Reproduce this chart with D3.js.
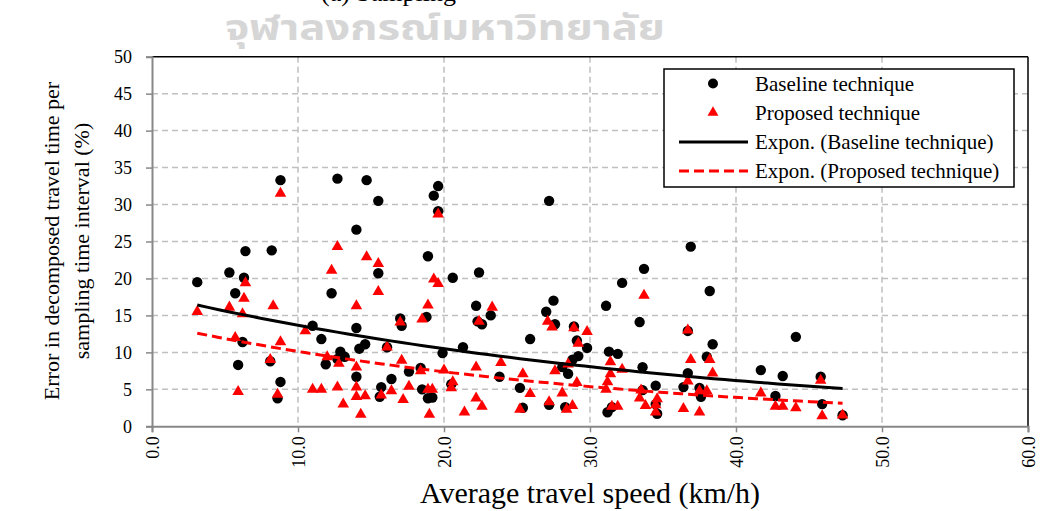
<!DOCTYPE html>
<html><head><meta charset="utf-8">
<script src="https://cdn.jsdelivr.net/npm/d3@7"></script>
<style>
body{margin:0;background:#fff}
svg{display:block}
text{font-family:"Liberation Serif","Times New Roman",serif;fill:#000}
</style>
</head><body>
<svg id="chart" width="1044" height="511"></svg>
<script>
// ---- data ----
const baselinePoints = [
[3.1,19.5],[5.3,20.8],[5.7,18.0],[5.9,8.3],[6.2,11.4],[6.3,20.1],[6.4,23.7],[8.2,23.8],[8.1,8.8],[8.8,6.0],
[8.6,3.8],[8.8,33.3],[11.0,13.6],[11.6,11.8],[12.3,18.0],[11.9,8.4],[12.9,10.1],[12.7,9.1],[13.2,9.4],[12.7,33.5],
[14.0,26.6],[14.0,13.3],[14.2,10.5],[14.6,11.1],[14.0,6.7],[14.7,33.3],[15.5,30.5],[15.5,20.7],[15.7,5.3],[15.6,4.0],
[16.1,10.7],[16.4,6.4],[17.0,14.6],[17.1,13.6],[17.6,7.4],[18.4,7.9],[18.8,14.8],[18.9,23.0],[18.5,5.0],[18.9,3.8],
[19.2,3.9],[19.3,31.2],[19.6,32.5],[19.6,29.1],[19.9,9.9],[20.6,20.1],[20.5,5.7],[21.3,10.7],[22.4,20.8],[22.2,16.3],
[22.3,14.2],[22.6,13.8],[23.2,15.0],[23.8,6.7],[25.2,5.2],[25.4,2.5],[25.9,11.8],[27.2,30.5],[27.5,17.0],[27.0,15.5],
[27.6,13.8],[27.2,2.9],[28.3,2.6],[28.1,8.0],[28.5,7.1],[28.9,13.5],[29.1,11.6],[29.8,10.6],[29.2,9.5],[28.8,9.0],
[31.1,16.3],[32.2,19.4],[33.7,21.3],[33.4,14.1],[31.3,10.1],[31.9,9.8],[33.6,8.0],[31.2,1.9],[31.5,2.6],[33.6,4.9],
[34.5,5.5],[34.5,3.0],[34.6,1.7],[36.9,24.3],[38.2,18.3],[36.7,12.9],[38.4,11.1],[38.0,9.4],[36.7,7.2],[36.4,5.3],
[37.5,5.2],[37.6,4.0],[44.1,12.1],[41.7,7.6],[43.2,6.8],[45.8,6.7],[42.7,4.1],[45.9,3.0],[47.3,1.5]
];
const proposedPoints = [
[3.1,15.5],[5.3,16.1],[5.7,12.0],[5.9,4.7],[6.2,15.2],[6.3,17.3],[6.4,19.4],[8.1,9.0],[8.3,16.3],[8.6,4.3],
[8.8,11.4],[8.8,31.5],[10.5,12.9],[11.0,5.0],[11.6,5.0],[12.0,9.4],[12.3,21.1],[12.7,24.3],[12.7,5.3],[12.8,8.5],
[13.1,3.0],[14.0,16.3],[14.0,8.0],[14.0,5.3],[14.0,4.0],[14.3,1.6],[14.6,4.1],[14.7,22.9],[15.5,22.0],[15.5,18.2],
[15.7,4.2],[16.1,10.7],[16.4,4.8],[17.0,14.1],[17.1,8.9],[17.2,3.6],[17.6,5.4],[18.4,7.5],[18.5,14.5],[18.9,16.4],
[18.9,5.0],[19.2,5.0],[19.0,1.6],[19.3,19.9],[19.6,19.3],[19.6,28.7],[20.0,7.6],[20.6,6.0],[20.5,5.2],[21.4,1.9],
[22.2,8.0],[22.2,3.8],[22.6,2.7],[22.4,14.2],[23.3,16.1],[23.9,8.6],[25.4,7.1],[25.9,4.4],[25.2,2.3],[27.2,3.3],
[27.1,14.2],[27.4,13.4],[27.6,7.5],[28.1,4.5],[28.4,2.3],[28.8,2.8],[28.5,8.4],[28.9,13.3],[29.8,12.8],[29.2,11.2],
[29.1,5.9],[31.4,8.7],[31.4,7.1],[32.2,7.7],[31.2,6.0],[31.1,5.0],[31.5,2.7],[31.9,2.7],[33.7,17.7],[33.5,4.9],
[33.4,3.8],[33.8,2.8],[34.6,3.7],[34.5,2.9],[34.5,1.9],[36.7,13.0],[36.9,9.0],[38.2,9.0],[38.4,7.2],[36.7,6.1],
[37.5,4.8],[38.0,4.8],[36.4,2.4],[37.5,1.9],[41.7,4.5],[42.7,2.7],[43.2,2.7],[44.1,2.5],[45.8,6.2],[45.9,1.4],[47.3,1.5]
];
// exponential trend lines y = a * exp(b x)
const baselineTrend = [17.8, -0.0264];
const proposedTrend = [13.9, -0.0317];
const xTicks = [0,10,20,30,40,50,60];
const yTicks = [0,5,10,15,20,25,30,35,40,45,50];
const legendLabels = ["Baseline technique","Proposed technique","Expon. (Baseline technique)","Expon. (Proposed technique)"];

// ---- drawing ----
const svg = d3.select("#chart");
const L=152, R=1028, T=56.7, B=426.3;
const x = d3.scaleLinear().domain([0,60]).range([L,R]);
const y = d3.scaleLinear().domain([0,50]).range([B,T]);

// top caption (clipped at the page edge, as in the reference) and watermark
svg.append("text").attr("x",321).attr("y",1).attr("font-size",26).text("(a) Sampling");
svg.append("text").attr("x",225).attr("y",40)
  .attr("font-size",36).attr("font-weight","bold")
  .attr("textLength",440).attr("lengthAdjust","spacingAndGlyphs")
  .style("font-family","'Noto Sans Thai','Noto Sans','DejaVu Sans',sans-serif")
  .style("fill","#d6d6d6").text("จุฬาลงกรณ์มหาวิทยาลัย");

// gridlines
const grid = svg.append("g").attr("stroke","#bfbfbf").attr("stroke-width",1.5).attr("stroke-dasharray","6,4");
xTicks.filter(d=>d>0&&d<60).forEach(d=>grid.append("line").attr("x1",x(d)).attr("x2",x(d)).attr("y1",T).attr("y2",B));
yTicks.filter(d=>d>0&&d<50).forEach(d=>grid.append("line").attr("x1",L).attr("x2",R).attr("y1",y(d)).attr("y2",y(d)));

// frame (top/right)
svg.append("line").attr("x1",L).attr("x2",R).attr("y1",T).attr("y2",T).attr("stroke","#000").attr("stroke-width",1.5);
svg.append("line").attr("x1",R).attr("x2",R).attr("y1",T).attr("y2",B).attr("stroke","#000").attr("stroke-width",1.5);

// axes
const yAxis = svg.append("g").attr("transform",`translate(${L},0)`)
  .call(d3.axisLeft(y).tickValues(yTicks).tickSize(6).tickPadding(14).tickFormat(d3.format("d")));
const xAxis = svg.append("g").attr("transform",`translate(0,${B})`)
  .call(d3.axisBottom(x).tickValues(xTicks).tickSize(6).tickFormat(d3.format(".1f")));
[yAxis,xAxis].forEach(g=>{
  g.select(".domain").attr("stroke","#888").attr("stroke-width",2);
  g.selectAll(".tick line").attr("stroke","#888").attr("stroke-width",1.5);
  g.selectAll("text").attr("font-size",18).style("font-family","'Liberation Serif',serif").attr("fill","#000");
});
xAxis.selectAll(".tick text").attr("transform","rotate(-90)").attr("x",-10).attr("y",0)
  .attr("dy","0.35em").style("text-anchor","end");

// axis titles
svg.append("text").attr("x",590).attr("y",503).attr("text-anchor","middle").attr("font-size",30)
  .text("Average travel speed (km/h)");
const yt = svg.append("text").attr("transform","translate(59,241) rotate(-90)").attr("text-anchor","middle").attr("font-size",22);
yt.append("tspan").attr("x",0).attr("y",0).text("Error in decomposed travel time per");
yt.append("tspan").attr("x",0).attr("y",30).text("sampling time interval (%)");

// points
svg.append("g").selectAll("circle").data(baselinePoints).join("circle")
  .attr("cx",d=>x(d[0])).attr("cy",d=>y(d[1])).attr("r",5.2).attr("fill","#000");
const tri = d3.symbol().type(d3.symbolTriangle).size(58);
svg.append("g").selectAll("path").data(proposedPoints).join("path")
  .attr("d",tri).attr("transform",d=>`translate(${x(d[0])},${y(d[1])})`).attr("fill","#ff0000");

// trend lines
function trend(c, pts){
  const xs = pts.map(p=>p[0]);
  const x0 = d3.min(xs), x1 = d3.max(xs);
  const n = 60;
  return d3.range(n+1).map(i=>{const v=x0+(x1-x0)*i/n; return [v, c[0]*Math.exp(c[1]*v)];});
}
const line = d3.line().x(d=>x(d[0])).y(d=>y(d[1]));
svg.append("path").datum(trend(baselineTrend, baselinePoints)).attr("d",line)
  .attr("fill","none").attr("stroke","#000").attr("stroke-width",3);
svg.append("path").datum(trend(proposedTrend, proposedPoints)).attr("d",line)
  .attr("fill","none").attr("stroke","#ff0000").attr("stroke-width",3).attr("stroke-dasharray","10,5");

// legend
const lg = svg.append("g");
lg.append("rect").attr("x",664).attr("y",69).attr("width",350).attr("height",118)
  .attr("fill","#fff").attr("stroke","#000").attr("stroke-width",1.5);
const rows = [83.5,112.5,142,171];
const tx = 755, mx = 713;
lg.append("circle").attr("cx",mx).attr("cy",rows[0]).attr("r",5).attr("fill","#000");
lg.append("path").attr("d",d3.symbol().type(d3.symbolTriangle).size(52)).attr("transform",`translate(${mx},${rows[1]})`).attr("fill","#ff0000");
lg.append("line").attr("x1",679).attr("x2",748).attr("y1",rows[2]).attr("y2",rows[2]).attr("stroke","#000").attr("stroke-width",3);
lg.append("line").attr("x1",679).attr("x2",748).attr("y1",rows[3]).attr("y2",rows[3]).attr("stroke","#ff0000").attr("stroke-width",3).attr("stroke-dasharray","10,5");
legendLabels.forEach((t,i)=>lg.append("text").attr("x",tx).attr("y",rows[i]).attr("dy","0.35em").attr("font-size",21).text(t));
</script>
</body></html>
